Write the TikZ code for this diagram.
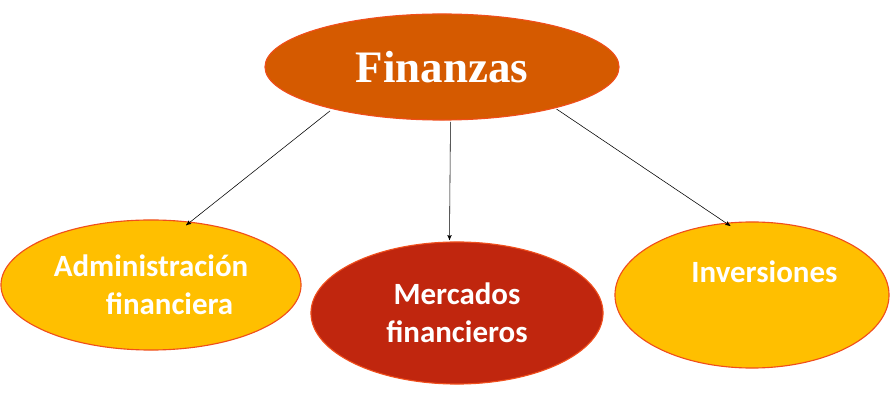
\documentclass[tikz,border=0pt]{standalone}
\usepackage{fontspec}
\setmainfont{Liberation Serif}
\setsansfont{Carlito}
\usetikzlibrary{shapes.geometric, arrows, positioning}
\definecolor{topfill}{HTML}{D55A00}
\definecolor{midfill}{HTML}{C0260E}
\definecolor{sidefill}{HTML}{FFBF00}
\definecolor{rim}{HTML}{F04E1C}
\begin{document}
\begin{tikzpicture}[x=0.025cm, y=-0.025cm,
    topic/.style={ellipse, draw=rim, thick, fill=topfill, minimum width=8.85cm, minimum height=2.65cm, text=white, font=\fontsize{32}{32}\selectfont\bfseries},
    branch/.style={ellipse, draw=rim, thick, fill=sidefill, text=white, align=center, font=\sffamily\bfseries\fontsize{22}{27}\selectfont},
    arrow/.style={->, >=stealth', thin}
]
\useasboundingbox (0,0) rectangle (890,406);

% Main topic
\node[topic] (fin) at (442,67) {Finanzas};

% Branches
\node[branch, minimum width=7.5cm, minimum height=3.25cm] (adm) at (151,285) {Administración\\\hspace{1.2em}financiera};
\node[branch, fill=midfill, minimum width=7.3cm, minimum height=3.55cm] (merc) at (457,313) {Mercados\\financieros};
\node[branch, minimum width=6.85cm, minimum height=3.65cm] (inv) at (752,295) {\hspace{0.8em}Inversiones\\[6pt]};

% Arrows
\draw[arrow, shorten <=2pt, shorten >=-4pt] (fin.201) -- (adm.58);
\draw[arrow, shorten <=1pt, shorten >=1pt] (fin.279) -- (merc.96);
\draw[arrow, shorten <=1pt, shorten >=-4pt] (fin.340) -- (inv.110);
\end{tikzpicture}
\end{document}
